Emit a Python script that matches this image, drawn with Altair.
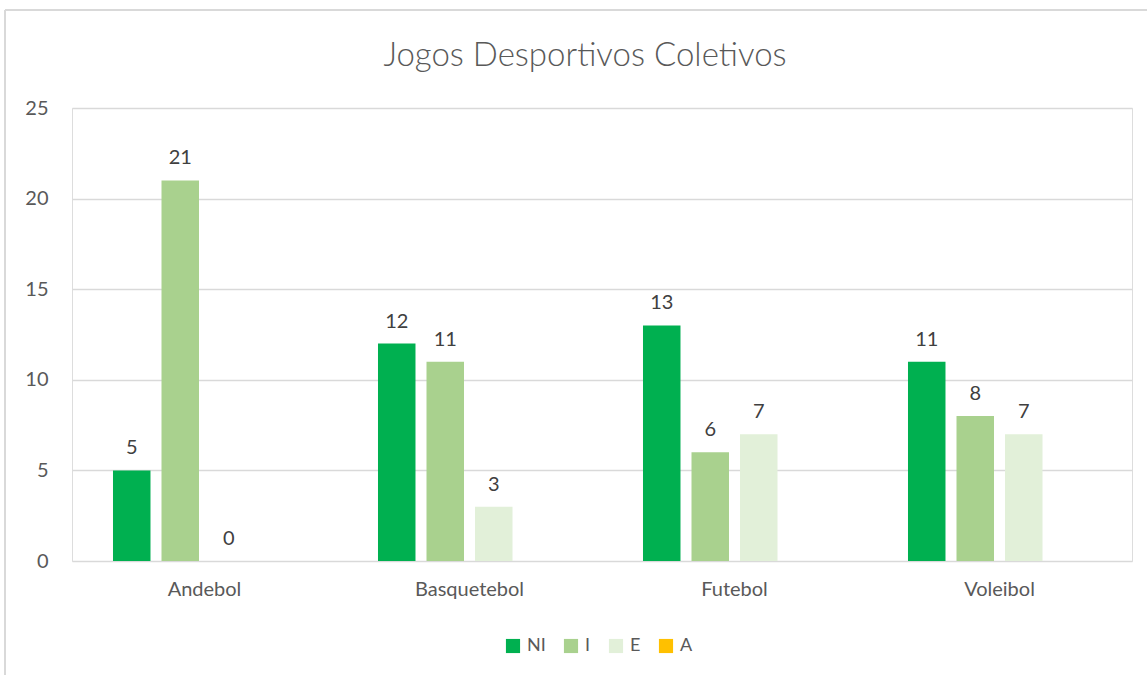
import altair as alt
import pandas as pd

categories = ["Andebol", "Basquetebol", "Futebol", "Voleibol"]
series = ["NI", "I", "E", "A"]
ni_values = [5, 12, 13, 11]
i_values = [21, 11, 6, 8]
e_values = [0, 3, 7, 7]
a_values = [None, None, None, None]
colors = ["#00B050", "#A9D18E", "#E2F0D9", "#FFC000"]
title_text = ["Jogos Desportivos Coletivos"]

rows = []
for s, vals in zip(series, [ni_values, i_values, e_values, a_values]):
    for c, v in zip(categories, vals):
        rows.append({"cat": c, "serie": s, "valor": v})
df = pd.DataFrame(rows)

FONT = "Lato"
TXT = "#595959"

x = alt.X("cat:N", sort=categories, title=None,
          scale=alt.Scale(paddingInner=0, paddingOuter=0),
          axis=alt.Axis(labelAngle=0, labelFontSize=20, labelColor=TXT, labelFont=FONT,
                        ticks=False, domain=False, labelPadding=18))
xo = alt.XOffset("serie:N", sort=series,
                 scale=alt.Scale(paddingInner=0.227, paddingOuter=0.845))
y = alt.Y("valor:Q", title=None,
          scale=alt.Scale(domain=[0, 25]),
          axis=alt.Axis(values=[0, 5, 10, 15, 20, 25], labelFontSize=20, labelColor=TXT,
                        labelFont=FONT, ticks=False, domain=False, labelPadding=24,
                        gridColor="#D9D9D9", gridWidth=1.3))

bars = alt.Chart(df).mark_bar().encode(
    x=x, xOffset=xo, y=y,
    color=alt.Color("serie:N", sort=series,
                    scale=alt.Scale(domain=series, range=colors),
                    legend=alt.Legend(title=None, orient="none", direction="horizontal",
                                      legendX=432, legendY=529, symbolType="square",
                                      symbolSize=200, labelFontSize=18, labelColor=TXT,
                                      labelFont=FONT, columnPadding=16, labelOffset=5,
                                      symbolOpacity=1)),
)

labels = alt.Chart(df).transform_filter("datum.valor != null").mark_text(
    baseline="alphabetic", dy=-16, fontSize=20, color="#404040", font=FONT
).encode(x=x, xOffset=xo, y=y, text=alt.Text("valor:Q"))

title = alt.Chart(pd.DataFrame({"t": title_text})).mark_text(
    fontSize=33, font=FONT, fontWeight=300, color=TXT, baseline="middle", align="center"
).encode(x=alt.value(513), y=alt.value(-52), text="t:N")

border_top = alt.Chart(df).mark_rule(color="#D9D9D9", strokeWidth=1.5, clip=False).encode(
    x=alt.value(-67), x2=alt.value(1100), y=alt.value(-98))
border_left = alt.Chart(df).mark_rule(color="#D9D9D9", strokeWidth=1.5, clip=False).encode(
    x=alt.value(-67), y=alt.value(-98), y2=alt.value(600))

chart = alt.layer(border_top, border_left, bars, labels, title).properties(
    width=1060, height=453,
    autosize=alt.AutoSizeParams(type="none"),
    padding={"left": 72, "top": 108, "right": 15, "bottom": 114},
).configure_view(stroke=None).configure(background="white")

chart.save("out.html", embed_options={"renderer": "svg", "actions": False})
